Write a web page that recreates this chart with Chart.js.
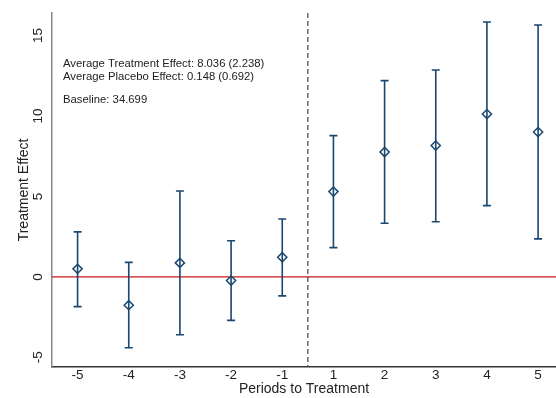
<!DOCTYPE html>
<html>
<head>
<meta charset="utf-8">
<script src="https://cdn.jsdelivr.net/npm/chart.js@4.4.0/dist/chart.umd.min.js"></script>
<style>
  html, body { margin: 0; padding: 0; background: #fff; }
</style>
</head>
<body>
<canvas id="chart" width="556" height="398"></canvas>
<script>
// data
const periods = ["-5", "-4", "-3", "-2", "-1", "1", "2", "3", "4", "5"];
const effects = [0.5, -1.76, 0.87, -0.23, 1.22, 5.3, 7.76, 8.16, 10.12, 9.0];
const lower = [-1.85, -4.4, -3.6, -2.7, -1.18, 1.82, 3.33, 3.43, 4.43, 2.36];
const upper = [2.8, 0.9, 5.34, 2.25, 3.6, 8.78, 12.2, 12.86, 15.84, 15.65];
const yTicks = [-5, 0, 5, 10, 15];
const notes = ["Average Treatment Effect: 8.036 (2.238)", "Average Placebo Effect: 0.148 (0.692)", "Baseline: 34.699"];

const navy = "#1a476f";
Chart.defaults.font.family = "'Liberation Sans', Arial, sans-serif";

// zero line, treatment line, error bars, y labels, notes
const extras = {
  id: "extras",
  beforeDatasetsDraw(chart) {
    const { ctx, chartArea: a, scales: { x, y } } = chart;
    ctx.save();

    const y0 = y.getPixelForValue(0);
    ctx.strokeStyle = "#c8161e";
    ctx.lineWidth = 1.2;
    ctx.beginPath();
    ctx.moveTo(a.left, y0);
    ctx.lineTo(a.right, y0);
    ctx.stroke();

    const xd = x.getPixelForValue(4.5);
    ctx.strokeStyle = "#444";
    ctx.lineWidth = 1.2;
    ctx.setLineDash([5, 3]);
    ctx.beginPath();
    ctx.moveTo(xd, a.top);
    ctx.lineTo(xd, a.bottom);
    ctx.stroke();
    ctx.setLineDash([]);

    ctx.strokeStyle = navy;
    ctx.lineWidth = 1.6;
    periods.forEach((p, i) => {
      const px = x.getPixelForValue(i);
      const lo = y.getPixelForValue(lower[i]);
      const hi = y.getPixelForValue(upper[i]);
      ctx.beginPath();
      ctx.moveTo(px, lo); ctx.lineTo(px, hi);
      ctx.moveTo(px - 4, lo); ctx.lineTo(px + 4, lo);
      ctx.moveTo(px - 4, hi); ctx.lineTo(px + 4, hi);
      ctx.stroke();
    });
    ctx.restore();
  },
  afterDraw(chart) {
    const { ctx, chartArea: a, scales: { y } } = chart;
    ctx.save();
    ctx.fillStyle = "#222";
    ctx.font = "13.5px 'Liberation Sans', Arial, sans-serif";
    ctx.textAlign = "center";
    ctx.textBaseline = "middle";
    yTicks.forEach(v => {
      ctx.save();
      ctx.translate(a.left - 14, y.getPixelForValue(v));
      ctx.rotate(-Math.PI / 2);
      ctx.fillText(String(v), 0, 0);
      ctx.restore();
    });

    ctx.font = "11.3px 'Liberation Sans', Arial, sans-serif";
    ctx.textAlign = "left";
    const rows = [64, 77, 100];
    notes.forEach((t, i) => ctx.fillText(t, a.left + 11, rows[i]));
    ctx.restore();
  }
};

new Chart(document.getElementById("chart"), {
  type: "scatter",
  data: {
    datasets: [{
      data: effects.map((v, i) => ({ x: i, y: v })),
      pointStyle: "rectRot",
      pointRadius: 4.6,
      pointBorderWidth: 1.5,
      pointBorderColor: navy,
      pointBackgroundColor: "rgba(0,0,0,0)",
      showLine: false
    }]
  },
  options: {
    responsive: false,
    animation: false,
    events: [],
    layout: { autoPadding: false, padding: { top: 13, right: 0, bottom: 0, left: 0 } },
    plugins: { legend: { display: false }, tooltip: { enabled: false } },
    scales: {
      x: {
        type: "linear",
        min: -0.5,
        max: 9.35,
        grid: { display: false, drawTicks: false },
        border: { color: "#333", width: 1.5 },
        afterBuildTicks: s => { s.ticks = periods.map((p, i) => ({ value: i })); },
        ticks: {
          autoSkip: false, maxRotation: 0, padding: 0,
          font: { size: 13.5 }, color: "#222",
          callback: v => periods[v]
        },
        title: {
          display: true, text: "Periods to Treatment",
          font: { size: 14 }, color: "#222",
          padding: { top: 0, bottom: 0 }
        },
        afterFit: s => { s.height = 31; }
      },
      y: {
        min: -5.6,
        max: 16.4,
        grid: { display: false, drawTicks: false },
        border: { color: "#888", width: 1.5 },
        ticks: { display: false },
        title: {
          display: true, text: "Treatment Effect",
          font: { size: 14 }, color: "#222",
          padding: { top: 16, bottom: 0 }
        },
        afterFit: s => { s.width = 52; }
      }
    }
  },
  plugins: [extras]
});
</script>
</body>
</html>
